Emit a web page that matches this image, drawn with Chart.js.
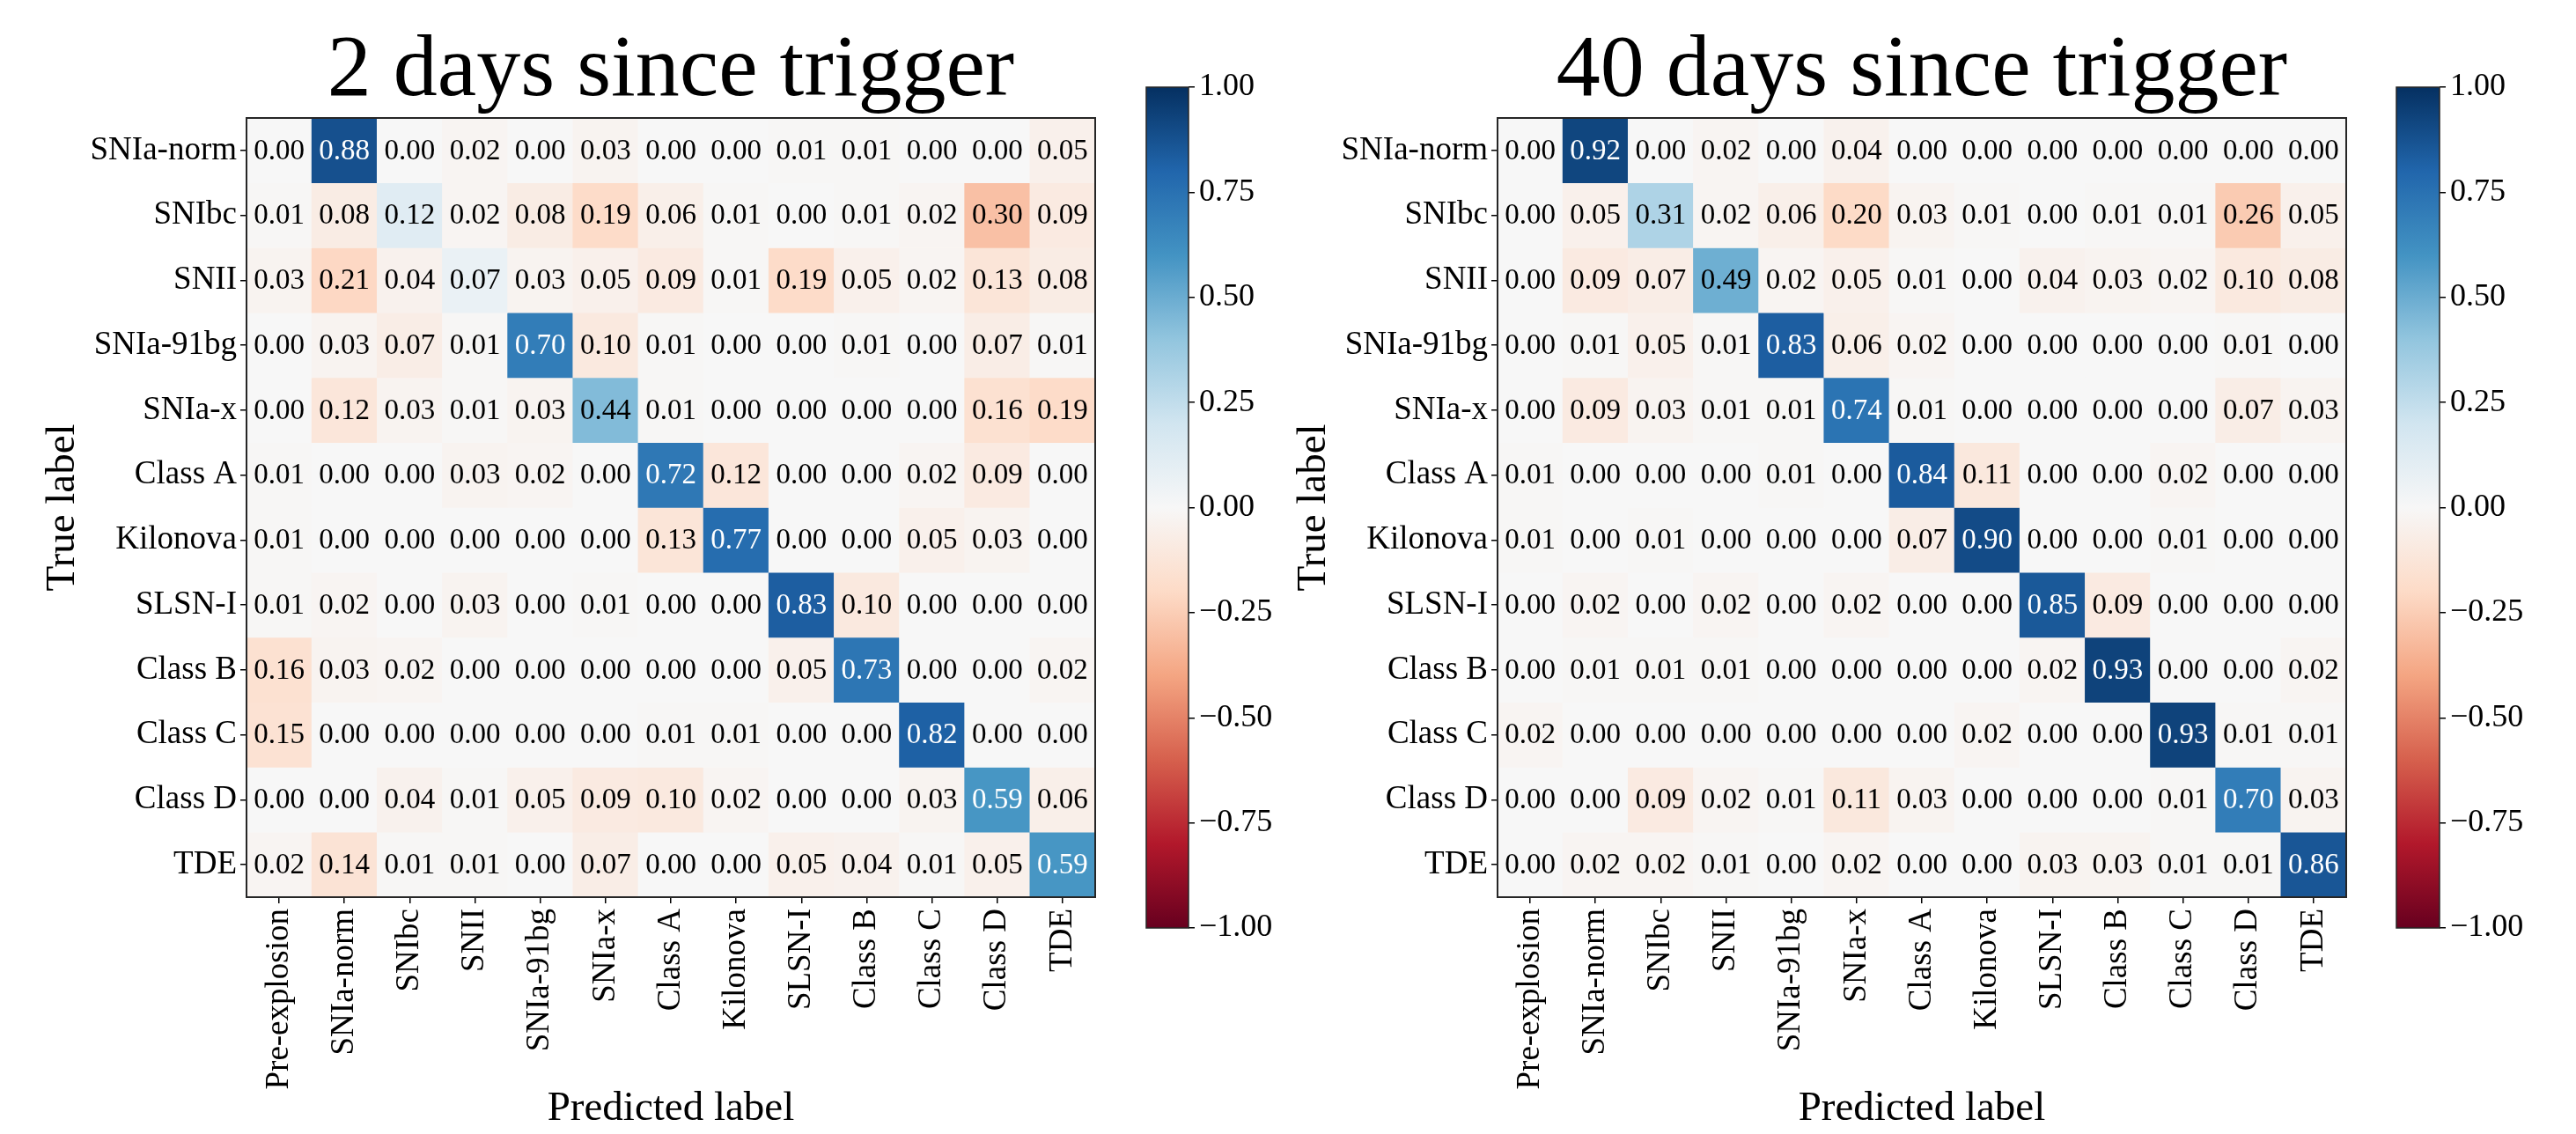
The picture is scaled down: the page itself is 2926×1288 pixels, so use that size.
<!DOCTYPE html>
<html>
<head>
<meta charset="utf-8">
<script src="https://cdn.jsdelivr.net/npm/chart.js@4.4.1/dist/chart.umd.min.js"></script>
<style>
  html, body { margin: 0; padding: 0; background: #fff; }
  body { width: 2926px; height: 1288px; position: relative; overflow: hidden; }
  canvas { position: absolute; top: 0; }
</style>
</head>
<body>
<canvas id="cmLeft" width="1290" height="1288" style="left:0px;width:1290px;height:1288px"></canvas>
<canvas id="cbLeft" width="190" height="1288" style="left:1290px;width:190px;height:1288px"></canvas>
<canvas id="cmRight" width="1290" height="1288" style="left:1421px;width:1290px;height:1288px"></canvas>
<canvas id="cbRight" width="216" height="1288" style="left:2710px;width:216px;height:1288px"></canvas>
<script>
var trueLabels = ["SNIa-norm", "SNIbc", "SNII", "SNIa-91bg", "SNIa-x", "Class A",
    "Kilonova", "SLSN-I", "Class B", "Class C", "Class D", "TDE"];
var predLabels = ["Pre-explosion", "SNIa-norm", "SNIbc", "SNII", "SNIa-91bg", "SNIa-x",
    "Class A", "Kilonova", "SLSN-I", "Class B", "Class C", "Class D", "TDE"];

// rows = true label, columns = predicted label
var day2 = [
    [0.00, 0.88, 0.00, 0.02, 0.00, 0.03, 0.00, 0.00, 0.01, 0.01, 0.00, 0.00, 0.05],
    [0.01, 0.08, 0.12, 0.02, 0.08, 0.19, 0.06, 0.01, 0.00, 0.01, 0.02, 0.30, 0.09],
    [0.03, 0.21, 0.04, 0.07, 0.03, 0.05, 0.09, 0.01, 0.19, 0.05, 0.02, 0.13, 0.08],
    [0.00, 0.03, 0.07, 0.01, 0.70, 0.10, 0.01, 0.00, 0.00, 0.01, 0.00, 0.07, 0.01],
    [0.00, 0.12, 0.03, 0.01, 0.03, 0.44, 0.01, 0.00, 0.00, 0.00, 0.00, 0.16, 0.19],
    [0.01, 0.00, 0.00, 0.03, 0.02, 0.00, 0.72, 0.12, 0.00, 0.00, 0.02, 0.09, 0.00],
    [0.01, 0.00, 0.00, 0.00, 0.00, 0.00, 0.13, 0.77, 0.00, 0.00, 0.05, 0.03, 0.00],
    [0.01, 0.02, 0.00, 0.03, 0.00, 0.01, 0.00, 0.00, 0.83, 0.10, 0.00, 0.00, 0.00],
    [0.16, 0.03, 0.02, 0.00, 0.00, 0.00, 0.00, 0.00, 0.05, 0.73, 0.00, 0.00, 0.02],
    [0.15, 0.00, 0.00, 0.00, 0.00, 0.00, 0.01, 0.01, 0.00, 0.00, 0.82, 0.00, 0.00],
    [0.00, 0.00, 0.04, 0.01, 0.05, 0.09, 0.10, 0.02, 0.00, 0.00, 0.03, 0.59, 0.06],
    [0.02, 0.14, 0.01, 0.01, 0.00, 0.07, 0.00, 0.00, 0.05, 0.04, 0.01, 0.05, 0.59]
];
var day40 = [
    [0.00, 0.92, 0.00, 0.02, 0.00, 0.04, 0.00, 0.00, 0.00, 0.00, 0.00, 0.00, 0.00],
    [0.00, 0.05, 0.31, 0.02, 0.06, 0.20, 0.03, 0.01, 0.00, 0.01, 0.01, 0.26, 0.05],
    [0.00, 0.09, 0.07, 0.49, 0.02, 0.05, 0.01, 0.00, 0.04, 0.03, 0.02, 0.10, 0.08],
    [0.00, 0.01, 0.05, 0.01, 0.83, 0.06, 0.02, 0.00, 0.00, 0.00, 0.00, 0.01, 0.00],
    [0.00, 0.09, 0.03, 0.01, 0.01, 0.74, 0.01, 0.00, 0.00, 0.00, 0.00, 0.07, 0.03],
    [0.01, 0.00, 0.00, 0.00, 0.01, 0.00, 0.84, 0.11, 0.00, 0.00, 0.02, 0.00, 0.00],
    [0.01, 0.00, 0.01, 0.00, 0.00, 0.00, 0.07, 0.90, 0.00, 0.00, 0.01, 0.00, 0.00],
    [0.00, 0.02, 0.00, 0.02, 0.00, 0.02, 0.00, 0.00, 0.85, 0.09, 0.00, 0.00, 0.00],
    [0.00, 0.01, 0.01, 0.01, 0.00, 0.00, 0.00, 0.00, 0.02, 0.93, 0.00, 0.00, 0.02],
    [0.02, 0.00, 0.00, 0.00, 0.00, 0.00, 0.00, 0.02, 0.00, 0.00, 0.93, 0.01, 0.01],
    [0.00, 0.00, 0.09, 0.02, 0.01, 0.11, 0.03, 0.00, 0.00, 0.00, 0.01, 0.70, 0.03],
    [0.00, 0.02, 0.02, 0.01, 0.00, 0.02, 0.00, 0.00, 0.03, 0.03, 0.01, 0.01, 0.86]
];
var cbarTicks = [-1, -0.75, -0.5, -0.25, 0, 0.25, 0.5, 0.75, 1];

// matplotlib RdBu, from -1 to 1
var RDBU = ["#67001f", "#b2182b", "#d6604d", "#f4a582", "#fddbc7", "#f7f7f7",
    "#d1e5f0", "#92c5de", "#4393c3", "#2166ac", "#053061"];

Chart.defaults.font.family = "'Liberation Serif', 'Times New Roman', serif";
Chart.defaults.color = "#000";

function hex(c) {
    return [parseInt(c.substr(1, 2), 16), parseInt(c.substr(3, 2), 16), parseInt(c.substr(5, 2), 16)];
}

function rdbu(v) {
    var t = (Math.max(-1, Math.min(1, v)) + 1) / 2 * 10;
    var i = Math.min(9, Math.floor(t));
    var f = t - i;
    var a = hex(RDBU[i]), b = hex(RDBU[i + 1]);
    var rgb = a.map(function (x, k) { return Math.round(x + (b[k] - x) * f); });
    return "rgb(" + rgb.join(",") + ")";
}

// diagonal shown as +value, everything else as -value
function signed(v, r, c) {
    return c === r + 1 ? v : -v;
}

var matrixExtras = {
    id: "matrixExtras",
    afterDatasetsDraw: function (chart, args, opts) {
        var ctx = chart.ctx;
        var a = chart.chartArea;
        ctx.save();
        ctx.font = "33px 'Liberation Serif'";
        ctx.textAlign = "center";
        ctx.textBaseline = "middle";
        chart.data.datasets.forEach(function (ds, r) {
            chart.getDatasetMeta(r).data.forEach(function (bar, c) {
                var v = ds.cellValues[c];
                ctx.fillStyle = signed(v, r, c) > 0.5 ? "#fff" : "#000";
                ctx.fillText(v.toFixed(2), bar.x, (bar.y + bar.base) / 2 + 1);
            });
        });
        ctx.strokeStyle = "#262626";
        ctx.lineWidth = 2;
        ctx.strokeRect(a.left, a.top, a.right - a.left, a.bottom - a.top);
        ctx.font = "100px 'Liberation Serif'";
        ctx.textBaseline = "alphabetic";
        ctx.fillStyle = "#000";
        ctx.fillText(opts.title, (a.left + a.right) / 2, 108);
        ctx.restore();
    }
};

var cbarFrame = {
    id: "cbarFrame",
    afterDatasetsDraw: function (chart) {
        var a = chart.chartArea;
        var ctx = chart.ctx;
        ctx.save();
        ctx.strokeStyle = "#262626";
        ctx.lineWidth = 1.5;
        ctx.strokeRect(a.left, a.top, a.right - a.left, a.bottom - a.top);
        ctx.restore();
    }
};

function drawMatrix(id, title, values) {
    var datasets = values.map(function (row, r) {
        return {
            data: row.map(function () { return [r - 0.5, r + 0.5]; }),
            cellValues: row,
            backgroundColor: row.map(function (v, c) { return rdbu(signed(v, r, c)); }),
            borderWidth: 0,
            barPercentage: 1,
            categoryPercentage: 1,
            grouped: false
        };
    });

    new Chart(document.getElementById(id), {
        type: "bar",
        data: { labels: predLabels, datasets: datasets },
        options: {
            responsive: false,
            animation: false,
            layout: { padding: { top: 134, right: 46, bottom: 0, left: 0 } },
            plugins: {
                legend: { display: false },
                tooltip: { enabled: false },
                matrixExtras: { title: title }
            },
            scales: {
                x: {
                    grid: { drawOnChartArea: false, offset: false, tickLength: 7, color: "#000", lineWidth: 1.5 },
                    border: { display: false },
                    ticks: { autoSkip: false, maxRotation: 90, minRotation: 90, padding: 6, font: { size: 37 } },
                    title: { display: true, text: "Predicted label", font: { size: 47 }, padding: { top: 0, bottom: 0 } },
                    afterFit: function (s) { s.height = 269; }
                },
                y: {
                    type: "linear",
                    min: -0.5,
                    max: 11.5,
                    reverse: true,
                    afterBuildTicks: function (s) {
                        s.ticks = trueLabels.map(function (l, i) { return { value: i }; });
                    },
                    grid: { drawOnChartArea: false, tickLength: 7, color: "#000", lineWidth: 1.5 },
                    border: { display: false },
                    ticks: {
                        autoSkip: false,
                        padding: 4,
                        font: { size: 37 },
                        callback: function (v) { return trueLabels[v]; }
                    },
                    title: { display: true, text: "True label", font: { size: 47 }, padding: { top: 43, bottom: 0 } },
                    afterFit: function (s) { s.width = 280; }
                }
            }
        },
        plugins: [matrixExtras]
    });
}

function drawColorbar(id, axisWidth) {
    new Chart(document.getElementById(id), {
        type: "bar",
        data: {
            labels: [""],
            datasets: [{
                data: [[cbarTicks[0], cbarTicks[cbarTicks.length - 1]]],
                backgroundColor: function (c) {
                    var a = c.chart.chartArea;
                    if (!a) return "#f7f7f7";
                    var g = c.chart.ctx.createLinearGradient(0, a.bottom, 0, a.top);
                    RDBU.forEach(function (col, i) { g.addColorStop(i / 10, col); });
                    return g;
                },
                borderWidth: 0,
                barPercentage: 1,
                categoryPercentage: 1
            }]
        },
        options: {
            responsive: false,
            animation: false,
            layout: { padding: { top: 99, bottom: 234, left: 12, right: 0 } },
            plugins: { legend: { display: false }, tooltip: { enabled: false } },
            scales: {
                x: { display: false },
                y: {
                    position: "right",
                    min: -1,
                    max: 1,
                    afterBuildTicks: function (s) {
                        s.ticks = cbarTicks.map(function (v) { return { value: v }; });
                    },
                    grid: { drawOnChartArea: false, tickLength: 7, color: "#000", lineWidth: 1.5 },
                    border: { display: false },
                    ticks: {
                        padding: 5,
                        font: { size: 36 },
                        callback: function (v) { return (v < 0 ? "\u2212" : "") + Math.abs(v).toFixed(2); }
                    },
                    afterFit: function (s) { s.width = axisWidth; }
                }
            }
        },
        plugins: [cbarFrame]
    });
}

drawMatrix("cmLeft", "2 days since trigger", day2);
drawColorbar("cbLeft", 130);
drawMatrix("cmRight", "40 days since trigger", day40);
drawColorbar("cbRight", 155);
</script>
</body>
</html>
